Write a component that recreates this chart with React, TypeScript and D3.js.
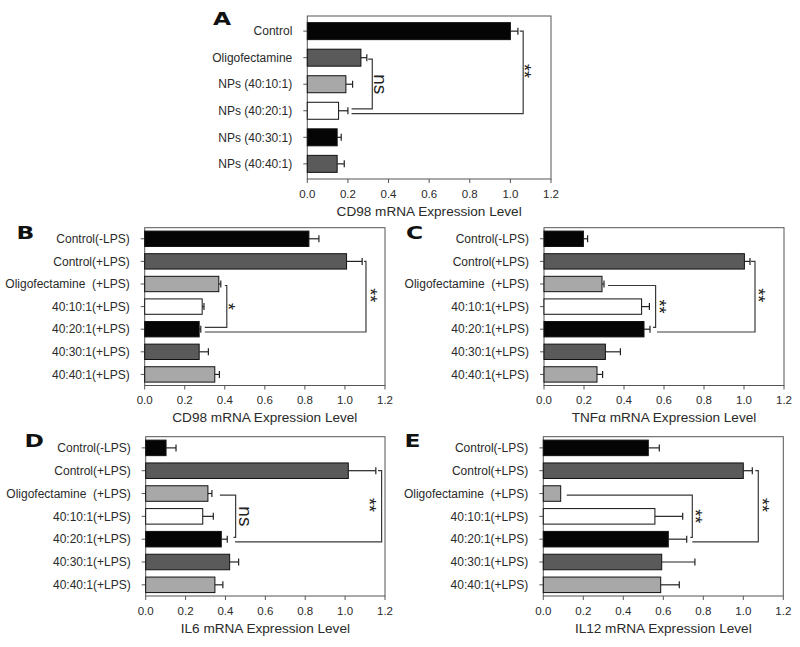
import React from 'react';
import * as d3 from 'd3';

// ---------- data ----------
const catsA = ['Control', 'Oligofectamine', 'NPs (40:10:1)', 'NPs (40:20:1)', 'NPs (40:30:1)', 'NPs (40:40:1)'];
const catsLPS = ['Control(-LPS)', 'Control(+LPS)', 'Oligofectamine  (+LPS)', '40:10:1(+LPS)', '40:20:1(+LPS)', '40:30:1(+LPS)', '40:40:1(+LPS)'];

const valuesA = [1.0, 0.264, 0.19, 0.154, 0.147, 0.147];
const errA = [0.037, 0.029, 0.033, 0.046, 0.02, 0.035];

const valuesB = [0.82, 1.008, 0.37, 0.287, 0.272, 0.272, 0.35];
const errB = [0.05, 0.078, 0.01, 0.009, 0.008, 0.046, 0.023];

const valuesC = [0.197, 1.002, 0.29, 0.488, 0.5, 0.307, 0.265];
const errC = [0.021, 0.028, 0.01, 0.039, 0.03, 0.075, 0.028];

const valuesD = [0.102, 1.016, 0.312, 0.286, 0.379, 0.421, 0.347];
const errD = [0.05, 0.138, 0.02, 0.053, 0.03, 0.045, 0.04];

const valuesE = [0.525, 1.0, 0.087, 0.558, 0.625, 0.592, 0.587];
const errE = [0.055, 0.045, 0, 0.139, 0.092, 0.166, 0.093];

const xTicks = [0, 0.2, 0.4, 0.6, 0.8, 1.0, 1.2];

const titles = ['CD98 mRNA Expression Level', 'CD98 mRNA Expression Level', 'TNF\u03b1 mRNA Expression Level', 'IL6 mRNA Expression Level', 'IL12 mRNA Expression Level'];

// significance annotations (category indices and x in data units)
const sigA = [
  { top: 1, bottom: 3, x: 0.32, topStart: 0.30, bottomStart: 0.218, label: 'ns', labelX: 0.36 },
  { top: 0, bottom: 3, x: 1.063, topStart: 1.046, bottomStart: 0.218, label: '**', labelX: 1.08 },
];
const sigB = [
  { top: 2, bottom: 4, x: 0.41, topStart: 0.40, bottomStart: 0.30, label: '*', labelX: 0.432 },
  { top: 1, bottom: 4, x: 1.105, topStart: 1.095, bottomStart: 0.30, label: '**', labelX: 1.14 },
];
const sigC = [
  { top: 2, bottom: 4, x: 0.558, topStart: 0.32, bottomStart: 0.545, label: '**', labelX: 0.588 },
  { top: 1, bottom: 4, x: 1.055, topStart: 1.035, bottomStart: 0.565, label: '**', labelX: 1.083 },
];
const sigD = [
  { top: 2, bottom: 4, x: 0.451, topStart: 0.372, bottomStart: 0.44, label: 'ns', labelX: 0.5 },
  { top: 1, bottom: 4, x: 1.183, topStart: 1.165, bottomStart: 0.448, label: '**', labelX: 1.133 },
];
const sigE = [
  { top: 2, bottom: 4, x: 0.745, topStart: 0.117, bottomStart: 0.735, label: '**', labelX: 0.775 },
  { top: 1, bottom: 4, x: 1.075, topStart: 1.06, bottomStart: 0.745, label: '**', labelX: 1.108 },
];

// ---------- styles ----------
const BLACK = '#050505';
const DARK = '#5a5a5a';
const LIGHT = '#a8a8a8';
const WHITE = '#ffffff';
const colorsA = [BLACK, DARK, LIGHT, WHITE, BLACK, DARK];
const colorsLPS = [BLACK, DARK, LIGHT, WHITE, BLACK, DARK, LIGHT];
const FONT = 'Liberation Sans, Arial, sans-serif';
const TEXT = '#2a2a2a';

type Sig = { top: number; bottom: number; x: number; topStart: number; bottomStart: number; label: string; labelX: number };

type PanelProps = {
  frame: { left: number; right: number; top: number; bottom: number };
  cats: string[];
  values: number[];
  errs: number[];
  colors: string[];
  title: string;
  letter: string;
  letterPos: [number, number];
  sigs: Sig[];
  padInner: number;
  padOuter: number;
};

function Panel({ frame, cats, values, errs, colors, title, letter, letterPos, sigs, padInner, padOuter }: PanelProps) {
  const x = d3.scaleLinear().domain([0, 1.2]).range([frame.left, frame.right]);
  const y = d3
    .scaleBand<number>()
    .domain(cats.map((_, i) => i))
    .range([frame.top, frame.bottom])
    .paddingInner(padInner)
    .paddingOuter(padOuter);
  const bw = y.bandwidth();
  const cy = (i: number) => (y(i) as number) + bw / 2;
  const fmt = d3.format('.1f');

  return (
    <g>
      <rect x={frame.left} y={frame.top} width={frame.right - frame.left} height={frame.bottom - frame.top} fill="none" stroke="#555" strokeWidth={1} />
      {xTicks.map((t) => (
        <g key={t}>
          <line x1={x(t)} x2={x(t)} y1={frame.bottom} y2={frame.bottom + 4} stroke="#555" strokeWidth={1} />
          <text x={x(t)} y={frame.bottom + 18.5} textAnchor="middle" fontSize={11.5} fontFamily={FONT} fill={TEXT}>
            {fmt(t)}
          </text>
        </g>
      ))}
      <text x={(frame.left + frame.right) / 2} y={frame.bottom + 36.5} textAnchor="middle" fontSize={13.6} fontFamily={FONT} fill={TEXT}>
        {title}
      </text>
      {cats.map((c, i) => (
        <g key={c}>
          <line x1={frame.left - 4} x2={frame.left} y1={cy(i)} y2={cy(i)} stroke="#555" strokeWidth={1} />
          <text x={frame.left - 15} y={cy(i)} dy="0.35em" textAnchor="end" fontSize={12} fontFamily={FONT} fill={TEXT} style={{ whiteSpace: 'pre' }}>
            {c}
          </text>
        </g>
      ))}
      {values.map((v, i) => (
        <rect key={i} x={x(0)} y={y(i)} width={x(v) - x(0)} height={bw} fill={colors[i]} stroke="#111" strokeWidth={1} />
      ))}
      {values.map((v, i) =>
        errs[i] > 0 ? (
          <g key={'e' + i} stroke="#222" strokeWidth={1.2}>
            <line x1={x(v)} x2={x(v + errs[i])} y1={cy(i)} y2={cy(i)} />
            <line x1={x(v + errs[i])} x2={x(v + errs[i])} y1={cy(i) - 3.5} y2={cy(i) + 3.5} />
          </g>
        ) : null
      )}
      {sigs.map((s, k) => {
        const outer = s.top < 2 && k === sigs.length - 1 && sigs.length > 1;
        const yT = cy(s.top) + (outer ? 0 : 1.5);
        const yB = cy(s.bottom) + (outer ? 2.8 : -1.8);
        const ym = (cy(s.top) + cy(s.bottom)) / 2;
        const isNs = s.label === 'ns';
        const fs = isNs ? 19 : 18;
        return (
          <g key={'s' + k}>
            <path d={`M${x(s.topStart)},${yT}H${x(s.x)}V${yB}H${x(s.bottomStart)}`} fill="none" stroke="#3a3a3a" strokeWidth={1.2} />
            <text
              transform={`translate(${x(s.labelX) - (isNs ? 0 : 3)},${ym}) rotate(90)`}
              textAnchor="middle"
              dominantBaseline="central"
              fontSize={fs}
              fontFamily={FONT}
              fill="#222"
            >
              {s.label}
            </text>
          </g>
        );
      })}
      <text
        transform={`translate(${letterPos[0]},${letterPos[1]}) scale(1.3,1)`}
        fontSize={18}
        fontWeight={700}
        fontFamily="DejaVu Sans, Liberation Sans, sans-serif"
        fill="#111"
      >
        {letter}
      </text>
    </g>
  );
}

export default function App() {
  return (
    <svg width={800} height={647} style={{ position: 'absolute', left: 0, top: 0, background: '#fff' }}>
      <rect width={800} height={647} fill="#fff" />
      <Panel frame={{ left: 307.3, right: 551, top: 16, bottom: 179 }} cats={catsA} values={valuesA} errs={errA} colors={colorsA} title={titles[0]} letter="A" letterPos={[213, 25]} sigs={sigA} padInner={0.36} padOuter={0.25} />
      <Panel frame={{ left: 144.7, right: 385, top: 227.7, bottom: 385.5 }} cats={catsLPS} values={valuesB} errs={errB} colors={colorsLPS} title={titles[1]} letter="B" letterPos={[16.5, 238.5]} sigs={sigB} padInner={0.32} padOuter={0.15} />
      <Panel frame={{ left: 544, right: 784, top: 227.7, bottom: 385.5 }} cats={catsLPS} values={valuesC} errs={errC} colors={colorsLPS} title={titles[2]} letter="C" letterPos={[406, 238.5]} sigs={sigC} padInner={0.32} padOuter={0.15} />
      <Panel frame={{ left: 145.7, right: 385, top: 436.7, bottom: 596 }} cats={catsLPS} values={valuesD} errs={errD} colors={colorsLPS} title={titles[3]} letter="D" letterPos={[24.5, 447]} sigs={sigD} padInner={0.32} padOuter={0.15} />
      <Panel frame={{ left: 543.3, right: 783.3, top: 436.7, bottom: 596 }} cats={catsLPS} values={valuesE} errs={errE} colors={colorsLPS} title={titles[4]} letter="E" letterPos={[404.5, 447]} sigs={sigE} padInner={0.32} padOuter={0.15} />
    </svg>
  );
}
